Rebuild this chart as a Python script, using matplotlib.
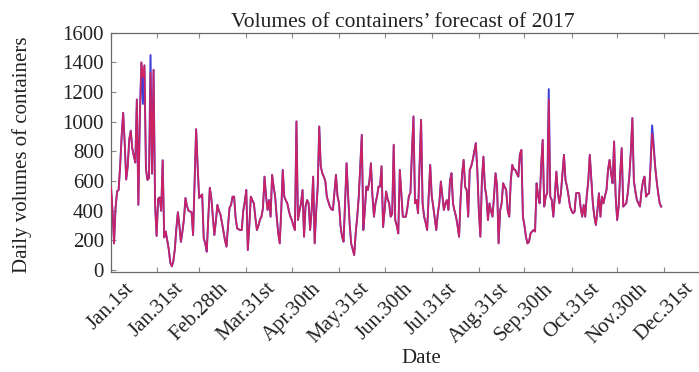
import matplotlib
matplotlib.use("Agg")
import matplotlib.pyplot as plt

plt.rcParams['font.family'] = ['Liberation Serif', 'DejaVu Serif']

# Daily container volumes, 2017 (day 0 = Jan 1)
actual = [
    560, 400, 180, 420, 530, 540, 700, 900, 1060, 860,
    610, 700, 880, 940, 820, 770, 725, 1150, 440, 1050,
    1400, 1120, 1380, 680, 608, 620, 1450, 650, 1350, 440,
    230, 480, 490, 400, 740, 220, 260, 200, 140, 50,
    25, 60, 140, 280, 390, 300, 190, 260, 345, 486,
    430, 400, 395, 390, 236, 600, 950, 700, 486, 500,
    510, 214, 180, 124, 350, 555, 486, 360, 236, 330,
    440, 400, 374, 320, 260, 200, 158, 300, 420, 440,
    495, 495, 350, 281, 275, 270, 270, 400, 460, 540,
    135, 300, 495, 470, 450, 350, 270, 300, 340, 360,
    420, 630, 500, 405, 472, 360, 642, 560, 495, 360,
    250, 180, 400, 675, 495, 470, 450, 400, 360, 337,
    300, 270, 1002, 337, 400, 450, 540, 225, 430, 472,
    450, 270, 400, 630, 180, 400, 560, 968, 700, 653,
    630, 600, 495, 460, 428, 410, 405, 520, 642, 500,
    450, 300, 225, 191, 450, 720, 500, 315, 180, 140,
    101, 250, 360, 495, 700, 912, 270, 400, 563, 540,
    600, 720, 500, 360, 450, 495, 563, 563, 700, 290,
    400, 530, 480, 450, 360, 380, 845, 337, 300, 247,
    675, 520, 360, 360, 360, 420, 500, 520, 800, 1036,
    450, 472, 383, 700, 1013, 450, 360, 320, 270, 500,
    709, 500, 428, 350, 270, 380, 450, 597, 500, 405,
    450, 472, 405, 600, 653, 450, 400, 360, 300, 225,
    480, 650, 743, 560, 540, 360, 675, 700, 743, 800,
    856, 675, 400, 225, 600, 765, 560, 495, 337, 450,
    400, 360, 500, 653, 563, 180, 400, 450, 585, 560,
    540, 400, 360, 600, 709, 680, 675, 650, 630, 780,
    810, 360, 300, 225, 180, 190, 247, 260, 270, 260,
    585, 500, 450, 700, 878, 428, 495, 520, 1220, 495,
    472, 360, 500, 664, 520, 450, 518, 650, 777, 608,
    563, 500, 428, 400, 383, 394, 518, 520, 518, 420,
    360, 439, 360, 500, 600, 777, 608, 450, 360, 304,
    400, 518, 360, 495, 450, 500, 540, 675, 743, 650,
    585, 867, 500, 337, 428, 650, 822, 428, 440, 450,
    520, 630, 800, 1025, 600, 530, 472, 450, 428, 530,
    600, 630, 495, 510, 518, 720, 975, 850, 698, 600,
    518, 450, 428,
]

# Forecast follows the actual volumes except on these days
forecast_changes = {21: 1300, 26: 1330, 288: 1150, 355: 700, 356: 920, 357: 820}
forecast = [forecast_changes.get(d, v) for d, v in enumerate(actual)]
days = list(range(len(actual)))

tick_days = [0, 30, 58, 89, 119, 150, 180, 211, 242, 272, 303, 333, 364]
tick_labels = ["Jan.1st", "Jan.31st", "Feb.28th", "Mar.31st", "Apr.30th",
               "May.31st", "Jun.30th", "Jul.31st", "Aug.31st", "Sep.30th",
               "Oct.31st", "Nov.30th", "Dec.31st"]
y_ticks = [0, 200, 400, 600, 800, 1000, 1200, 1400, 1600]

fig = plt.figure(figsize=(6.99, 3.72), dpi=100)
ax = fig.add_axes([0.1588, 0.268, 0.8698, 0.644])

ax.plot(days, actual, color="#4040d8", lw=1.4, zorder=2)
ax.plot(days, forecast, color="#dc1f55", lw=1.2, alpha=0.9, zorder=3)

ax.set_xlim(0, 400)
ax.set_ylim(-15, 1600)
ax.set_yticks(y_ticks)
ax.set_xticks(tick_days)
ax.set_xticklabels(tick_labels, rotation=45, ha="center", fontsize=15.5)

for s in ax.spines.values():
    s.set_color("#6a6a6a")
    s.set_linewidth(0.9)
ax.tick_params(direction="in", length=3.5, width=0.8, color="#888888",
               top=True, right=True, labelsize=15, labelcolor="#222222", pad=5)

ax.set_title("Volumes of containers\u2019 forecast of 2017", fontsize=15.5,
             color="#222222", x=0.48, pad=4)
ax.set_ylabel("Daily volumes of containers", fontsize=15, color="#222222")
ax.yaxis.set_label_coords(-0.146, 0.49)
ax.set_xlabel("Date", fontsize=15, color="#222222")
ax.xaxis.set_label_coords(0.51, -0.358)
ax.xaxis.label.set_va("center")
ax.yaxis.label.set_va("center")

fig.savefig("out.png", dpi=100)
